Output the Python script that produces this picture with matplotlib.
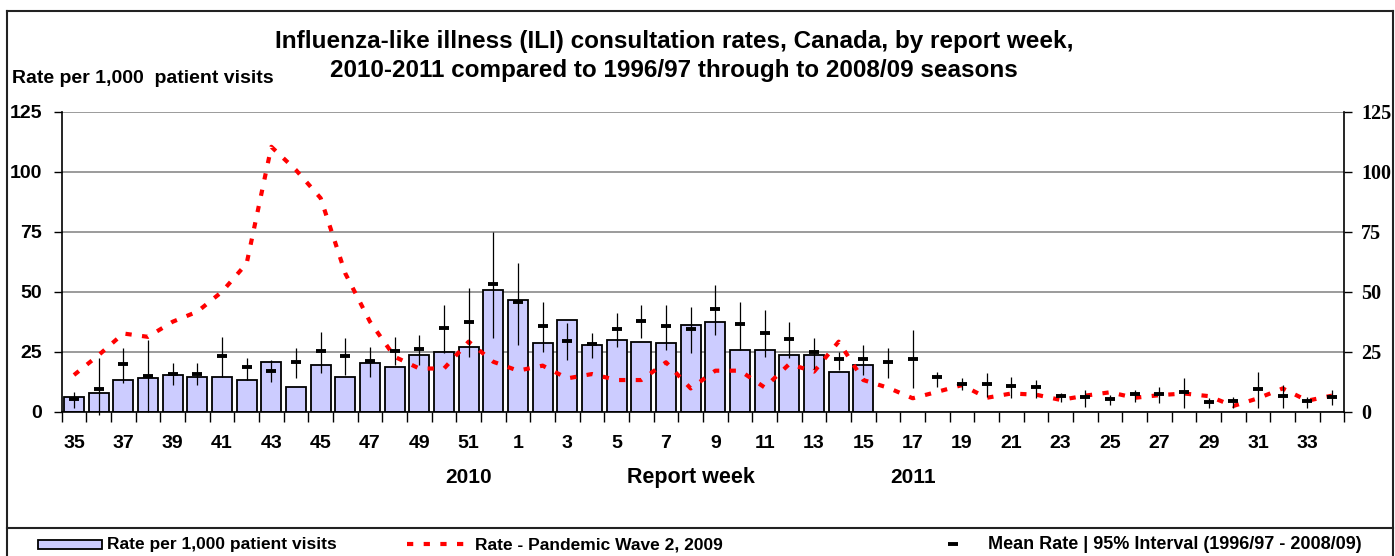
import numpy as np
import matplotlib
matplotlib.use("Agg")
import matplotlib.pyplot as plt
from matplotlib.lines import Line2D
from matplotlib.patches import Rectangle

# === DATA ===
weeks = list(range(35, 53)) + list(range(1, 35))

# 2010-11 rate per 1,000 patient visits (weeks 35..52, 1..15)
rate_2010 = [6.2, 7.6, 13.2, 13.9, 15.3, 14.6, 14.6, 13.2, 20.8, 10.4, 19.4, 14.6,
             20.1, 18.7, 23.6, 25.0, 27.1, 50.7,
             46.5, 28.5, 38.2, 27.8, 29.9, 29.2, 28.5, 36.1, 37.5, 25.7, 25.7,
             23.6, 23.6, 16.7, 19.4]

# pandemic wave 2, 2009
pandemic = [15.3, 23.6, 32.6, 31.2, 37.5, 41.7, 50.0, 61.8, 110.4, 100.7, 89.0, 57.6,
            37.5, 22.9, 18.0, 18.0, 29.2, 20.8,
            17.1, 19.2, 13.9, 15.7, 13.2, 13.2, 20.6, 9.7, 17.1, 17.1, 10.1, 19.9,
            16.7, 29.2, 13.2, 10.0, 5.6, 8.3, 11.1, 5.8, 7.6, 7.1, 4.9, 6.7, 8.1,
            5.8, 6.9, 7.6, 6.5, 2.4, 5.6, 9.7, 4.6, 6.7]

# mean rate 1996/97 - 2008/09 and 95% interval
mean_rate = [5.3, 9.3, 19.9, 14.9, 15.7, 15.6, 23.3, 18.5, 17.1, 20.6, 25.3, 23.3,
             21.2, 25.3, 26.1, 35.0, 37.2, 53.2,
             45.7, 35.8, 29.6, 28.2, 34.4, 37.9, 35.8, 34.4, 42.8, 36.5, 33.0, 30.3,
             24.7, 21.9, 21.9, 20.6, 21.9, 14.3, 11.5, 11.5, 10.8, 10.1, 6.7, 6.0,
             5.3, 7.4, 7.4, 8.1, 3.9, 4.6, 9.4, 6.7, 4.6, 6.0]
ci_low = [1.4, -1.5, 11.8, 0.0, 11.1, 11.1, 14.6, 13.2, 12.5, 13.9, 16.0, 15.3,
          14.6, 19.4, 19.4, 24.3, 22.9, 30.6,
          27.8, 25.0, 21.5, 22.2, 27.1, 30.6, 25.7, 24.3, 31.9, 25.7, 22.9, 22.2,
          18.0, 17.4, 15.3, 13.9, 9.7, 10.4, 9.0, 6.2, 5.6, 5.6, 4.2, 2.1, 2.8,
          4.2, 3.5, 1.4, 1.4, 1.4, 1.4, 1.4, 1.4, 2.8]
ci_high = [8.3, 22.2, 26.4, 29.9, 20.1, 20.1, 31.2, 22.2, 21.5, 26.4, 33.3, 30.6,
           27.1, 31.2, 31.9, 44.4, 51.4, 75.0,
           61.8, 45.8, 36.8, 32.6, 41.0, 44.4, 44.4, 43.8, 52.8, 45.8, 42.4, 37.5,
           30.6, 25.0, 27.8, 26.4, 34.0, 16.7, 13.9, 16.0, 14.6, 13.2, 7.6, 9.0,
           6.9, 9.0, 10.4, 13.9, 5.6, 6.2, 16.7, 11.1, 6.2, 9.0]

y_ticks = [0, 25, 50, 75, 100, 125]

# === STYLE ===
plt.rcParams["font.family"] = ["Liberation Sans", "DejaVu Sans"]
plt.rcParams["font.weight"] = "bold"
bar_color = "#ccccff"

fig = plt.figure(figsize=(13.95, 5.56), dpi=100)
ax = fig.add_axes([0.0442, 0.2595, 0.9195, 0.5395])

x = np.arange(len(weeks))
ax.bar(x[:len(rate_2010)], rate_2010, width=0.8, color=bar_color,
       edgecolor="black", linewidth=1.3, zorder=2)
ax.plot(x, pandemic, color="red", lw=3, ls=(0, (1.5, 2.5)), zorder=3)
ax.vlines(x, ci_low, ci_high, color="black", lw=0.9, zorder=4, clip_on=False)
ax.plot(x, mean_rate, ls="none", marker="_", ms=6.5, mew=2.8, color="black", zorder=5)

ax.set_xlim(-0.5, len(weeks) - 0.5)
ax.set_ylim(0, 125)
ax.set_yticks(y_ticks)
ax.yaxis.grid(True, color="#808080", lw=1.1)
ax.set_axisbelow(True)
ax.spines["top"].set_visible(False)
ax.spines["right"].set_visible(False)
ax.spines["left"].set_linewidth(1.2)
ax.spines["bottom"].set_linewidth(1.2)
ax.tick_params(axis="y", length=6, width=1, pad=8, labelsize=14)

ax.set_xticks(x[::2])
ax.set_xticklabels([str(w) for w in weeks[::2]])
ax.set_xticks(np.arange(-0.5, len(weeks), 1), minor=True)
ax.tick_params(axis="x", which="major", length=0, pad=17, labelsize=14)
ax.tick_params(axis="x", which="minor", length=7, width=1)

ax2 = ax.twinx()
ax2.set_ylim(0, 125)
ax2.set_yticks(y_ticks)
for s in ["left", "top", "bottom"]:
    ax2.spines[s].set_visible(False)
ax2.spines["right"].set_linewidth(1.2)
ax2.tick_params(axis="y", length=6, width=1, pad=6)
for lab in ax2.get_yticklabels():
    lab.set_family("Liberation Serif")
    lab.set_fontsize(14.5)
    lab.set_weight("bold")

tr = ax.get_xaxis_transform()
ax.text(16, -0.218, "2010", transform=tr, ha="center", va="center", fontsize=15)
ax.text(25, -0.218, "Report week", transform=tr, ha="center", va="center", fontsize=15.5)
ax.text(34, -0.218, "2011", transform=tr, ha="center", va="center", fontsize=15)

# titles
fig.text(0.483, 0.9245, "Influenza-like illness (ILI) consultation rates, Canada, by report week,",
         ha="center", va="center", fontsize=17.5)
fig.text(0.483, 0.874, "2010-2011 compared to 1996/97 through to 2008/09 seasons",
         ha="center", va="center", fontsize=17.5)
fig.text(0.0084, 0.8597, "Rate per 1,000  patient visits", ha="left", va="center", fontsize=14)

# frame
frame_kw = dict(transform=fig.transFigure, color="#222222", lw=1.5)
fig.add_artist(Line2D([0.0048, 0.9984], [0.9808, 0.9808], **frame_kw))
fig.add_artist(Line2D([0.0048, 0.0048], [0.0, 0.9808], **frame_kw))
fig.add_artist(Line2D([0.9984, 0.9984], [0.0, 0.9808], **frame_kw))
fig.add_artist(Line2D([0.0048, 0.9984], [0.0509, 0.0509], **frame_kw))

# legend
fig.add_artist(Rectangle((0.0272, 0.0126), 0.0459, 0.0162, transform=fig.transFigure,
                         facecolor=bar_color, edgecolor="black", lw=1.3))
fig.text(0.0767, 0.0198, "Rate per 1,000 patient visits", va="center", fontsize=12.5)
fig.add_artist(Line2D([0.2918, 0.3384], [0.0216, 0.0216], transform=fig.transFigure,
                      color="red", lw=3, ls=(0, (1.5, 2.5))))
fig.text(0.3405, 0.0198, "Rate - Pandemic Wave 2, 2009", va="center", fontsize=12.5)
fig.add_artist(Line2D([0.6835], [0.0216], transform=fig.transFigure, ls="none",
                      marker="_", ms=6.5, mew=2.8, color="black"))
fig.text(0.7082, 0.0198, "Mean Rate | 95% Interval (1996/97 - 2008/09)", va="center", fontsize=13)

fig.savefig("out.png", dpi=100)
